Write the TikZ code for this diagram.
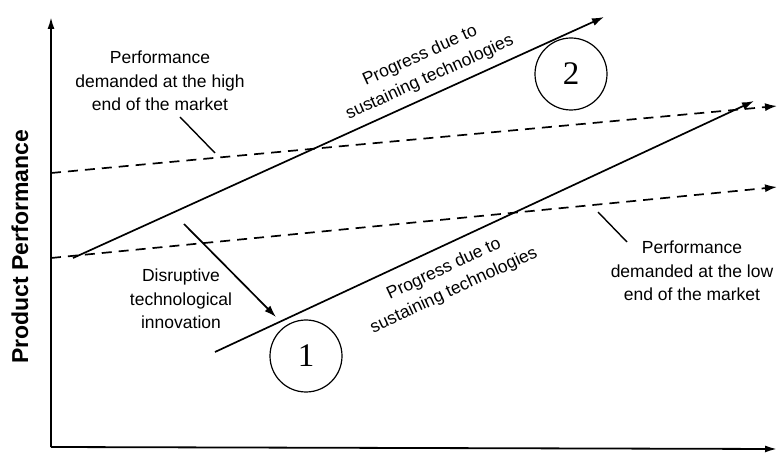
\documentclass[tikz,border=0pt]{standalone}
\usepackage{fontspec}
\setmainfont{Liberation Serif}
\setsansfont{Liberation Sans}
\usetikzlibrary{arrows.meta,positioning}

\begin{document}
\begin{tikzpicture}[x=1pt, y=-1pt, line/.style={line width=1.7pt,-{Latex[length=12pt,width=8pt]}}, demand/.style={line width=1.7pt, dash pattern=on 10pt off 7pt, -{Latex[length=12pt,width=8pt]}}, axis/.style={line width=1.8pt,-{Latex[length=12pt,width=7pt]}}, lbl/.style={font=\sffamily\fontsize{17.5}{23.5}\selectfont, align=center, inner sep=0pt}, num/.style={circle,draw,line width=1.2pt,minimum size=72pt,inner sep=0pt,font=\fontsize{33}{33}\selectfont}]
\useasboundingbox (0,0) rectangle (777,454);
\coordinate (origin) at (51,447);
\coordinate (ytop) at (51,17);
\coordinate (xend) at (777,449);
\draw[axis] (origin) -- (ytop);
\draw[axis] (origin) -- (xend);
\node[rotate=90,font=\sffamily\bfseries\fontsize{23}{23}\selectfont,inner sep=0pt] (ylabel) at (20,247) {Product Performance};
\coordinate (highA) at (51,173);
\coordinate (highB) at (777,106);
\coordinate (lowA) at (51,258);
\coordinate (lowB) at (777,187);
\draw[demand] (highA) -- (highB);
\draw[demand] (lowA) -- (lowB);
\coordinate (upA) at (73,258);
\coordinate (upB) at (604,17);
\coordinate (dnA) at (215,352);
\coordinate (dnB) at (754,101);
\draw[line] (upA) -- (upB);
\draw[line] (dnA) -- (dnB);
\node[lbl,rotate=24.45] (uplbl) at (425,67) {Progress due to\\sustaining technologies};
\node[lbl,rotate=24.96] (dnlbl) at (449,280) {Progress due to\\sustaining technologies};
\node[lbl] (highlbl) at (160,81) {Performance\\demanded at the high\\end of the market};
\node[lbl] (lowlbl) at (692,271) {Performance\\demanded at the low\\end of the market};
\node[lbl] (disrupt) at (181,299) {Disruptive\\technological\\innovation};
\coordinate (highP) at (180,117);
\coordinate (highQ) at (215,153);
\draw[line width=1.4pt] (highP) -- (highQ);
\coordinate (lowP) at (598,212);
\coordinate (lowQ) at (627,242);
\draw[line width=1.4pt] (lowP) -- (lowQ);
\coordinate (disA) at (184,224);
\coordinate (disB) at (276,317);
\draw[line] (disA) -- (disB);
\node[num] (two) at (571,74) {2};
\node[num] (one) at (306,356) {1};
\end{tikzpicture}
\end{document}
